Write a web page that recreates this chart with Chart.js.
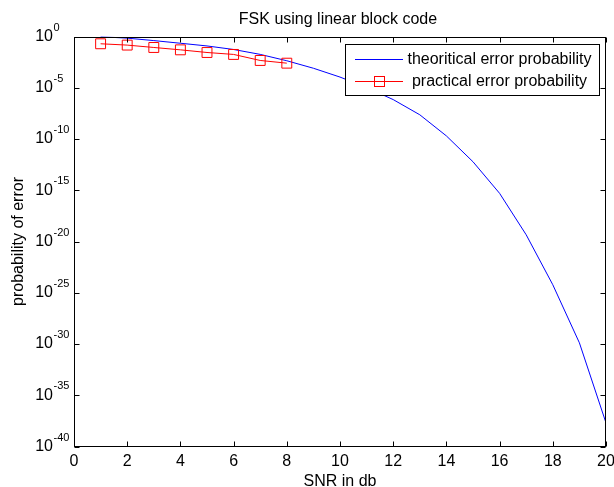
<!DOCTYPE html>
<html>
<head>
<meta charset="utf-8">
<script src="https://cdn.jsdelivr.net/npm/chart.js@4/dist/chart.umd.min.js"></script>
<style>
  html, body { margin: 0; padding: 0; background: #fff; }
  #wrap { width: 614px; height: 487px; }
</style>
</head>
<body>
<div id="wrap"><canvas id="c" width="614" height="487"></canvas></div>
<script>
// values
const snrDb = [1, 2, 3, 4, 5, 6, 7, 8, 9, 10, 11, 12, 13, 14, 15, 16, 17, 18, 19, 20];
const theoryPe = [0.95, 0.69, 0.40, 0.22, 0.12, 0.054, 0.018, 4.3e-3, 8e-4, 1.1e-4,
                  1.05e-5, 7e-7, 2.3e-8, 2e-10, 6e-13, 5e-16, 4.5e-20, 6e-25, 1.3e-30, 2e-38];
const practicalSnr = [1, 2, 3, 4, 5, 6, 7, 8];
const practicalPe = [0.195, 0.145, 0.085, 0.05, 0.0275, 0.0178, 0.0046, 0.0025];
const yTickValues = [1e0, 1e-5, 1e-10, 1e-15, 1e-20, 1e-25, 1e-30, 1e-35, 1e-40];

const FONT = "'Liberation Sans', Arial, sans-serif";
const BLUE = '#0000ff';
const RED = '#ff0000';

// box, inner ticks, y labels with exponents, title, legend (matlab look)
const matlabFrame = {
  id: 'matlabFrame',
  afterDraw(chart) {
    const { ctx, chartArea: a, scales: { x, y } } = chart;
    const L = Math.round(a.left) + 0.5, R = Math.round(a.right) - 0.5;
    const T = Math.round(a.top) + 0.5, B = Math.round(a.bottom) - 0.5;
    ctx.save();
    ctx.strokeStyle = '#000';
    ctx.lineWidth = 1;
    ctx.strokeRect(L, T, R - L, B - T);

    ctx.beginPath();
    x.ticks.forEach(t => {
      const px = Math.round(x.getPixelForValue(t.value)) + 0.5;
      ctx.moveTo(px, B); ctx.lineTo(px, B - 5);
      ctx.moveTo(px, T); ctx.lineTo(px, T + 5);
    });
    y.ticks.forEach(t => {
      const py = Math.round(y.getPixelForValue(t.value)) + 0.5;
      ctx.moveTo(L, py); ctx.lineTo(L + 5, py);
      ctx.moveTo(R, py); ctx.lineTo(R - 5, py);
    });
    ctx.stroke();

    // y tick labels: 10 with superscript exponent
    ctx.fillStyle = '#000';
    y.ticks.forEach(t => {
      const py = y.getPixelForValue(t.value);
      const e = Math.round(Math.log10(t.value));
      ctx.font = '16px ' + FONT;
      ctx.textAlign = 'right';
      ctx.textBaseline = 'middle';
      ctx.fillText('10', 53, py);
      ctx.font = '11px ' + FONT;
      ctx.textAlign = 'left';
      ctx.textBaseline = 'alphabetic';
      ctx.fillText(String(e), 53.5, py - 6);
    });

    // title
    ctx.font = '16px ' + FONT;
    ctx.textAlign = 'center';
    ctx.textBaseline = 'middle';
    ctx.fillText('FSK using linear block code', (a.left + a.right) / 2 - 2, 19.5);

    // legend
    const lx = 345.5, ly = 44.5, lw = 254, lh = 51;
    ctx.fillStyle = '#fff';
    ctx.fillRect(lx, ly, lw, lh);
    ctx.strokeStyle = '#000';
    ctx.strokeRect(lx, ly, lw, lh);
    const rows = [
      { label: 'theoritical error probability', color: BLUE, marker: false },
      { label: 'practical error probability', color: RED, marker: true }
    ];
    rows.forEach((r, i) => {
      const yy = Math.round(ly + 14 + i * 22.5) + 0.5;
      ctx.strokeStyle = r.color;
      ctx.lineWidth = 1;
      ctx.beginPath();
      ctx.moveTo(355, yy); ctx.lineTo(403, yy);
      ctx.stroke();
      if (r.marker) ctx.strokeRect(374.5, yy - 5, 10, 10);
      ctx.fillStyle = '#000';
      ctx.font = '16px ' + FONT;
      ctx.textAlign = 'center';
      ctx.textBaseline = 'middle';
      ctx.fillText(r.label, 499.5, yy);
    });
    ctx.restore();
  }
};

new Chart(document.getElementById('c'), {
  type: 'line',
  data: {
    datasets: [
      {
        label: 'practical error probability',
        data: practicalSnr.map((s, i) => ({ x: s, y: practicalPe[i] })),
        borderColor: RED,
        borderWidth: 1,
        pointStyle: 'rect',
        pointRadius: 7,
        pointBorderWidth: 1,
        pointBorderColor: RED,
        pointBackgroundColor: 'rgba(0,0,0,0)',
        tension: 0,
        order: 0
      },
      {
        label: 'theoritical error probability',
        data: snrDb.map((s, i) => ({ x: s, y: theoryPe[i] })),
        borderColor: BLUE,
        borderWidth: 1,
        pointRadius: 0,
        tension: 0,
        order: 1
      }
    ]
  },
  options: {
    responsive: false,
    animation: false,
    devicePixelRatio: 1,
    layout: { padding: { top: 36.5, right: 8, left: 0, bottom: 0 } },
    plugins: {
      legend: { display: false },
      tooltip: { enabled: false },
      title: { display: false }
    },
    scales: {
      x: {
        type: 'linear',
        min: 0,
        max: 20,
        grid: { display: false },
        border: { display: false },
        ticks: { stepSize: 2, color: '#000', padding: -3, font: { family: FONT, size: 16 } },
        title: {
          display: true,
          text: 'SNR in db',
          color: '#000',
          font: { family: FONT, size: 16, lineHeight: 1 },
          padding: { top: 0, bottom: -3 }
        },
        afterFit(s) { s.height = 40.5; s.paddingLeft = 0; s.paddingRight = 0; }
      },
      y: {
        type: 'logarithmic',
        min: 1e-40,
        max: 1,
        grid: { display: false },
        border: { display: false },
        afterBuildTicks(s) { s.ticks = yTickValues.map(v => ({ value: v })); },
        ticks: { display: false },
        title: {
          display: true,
          text: 'probability of error',
          color: '#000',
          font: { family: FONT, size: 16, lineHeight: 1.2 },
          padding: { top: 9.4, bottom: 0 }
        },
        afterFit(s) { s.width = 74; s.paddingTop = 0; s.paddingBottom = 0; }
      }
    }
  },
  plugins: [matlabFrame]
});
</script>
</body>
</html>
